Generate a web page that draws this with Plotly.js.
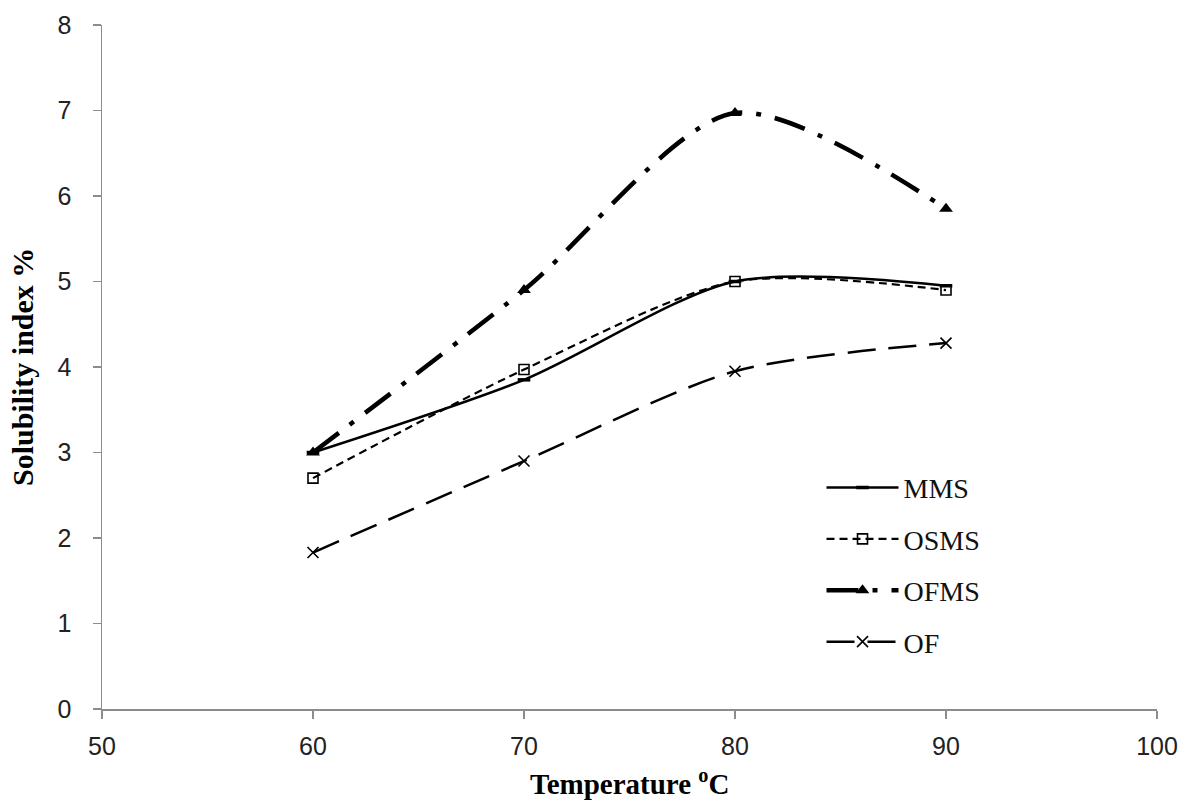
<!DOCTYPE html>
<html>
<head>
<meta charset="utf-8">
<script src="https://cdn.plot.ly/plotly-3.0.1.min.js"></script>
<style>html,body{margin:0;padding:0;background:#fff;}#chart{width:1189px;height:803px;}</style>
</head>
<body>
<div id="chart"></div>
<script>
var temperature = [60, 70, 80, 90];
var mms  = [3.0, 3.85, 5.0, 4.95];
var osms = [2.7, 3.97, 5.0, 4.9];
var ofms = [3.0, 4.9, 6.97, 5.85];
var of   = [1.83, 2.9, 3.95, 4.28];
var seriesNames = ['MMS', 'OSMS', 'OFMS', 'OF'];
var xTicks = [50, 60, 70, 80, 90, 100];
var yTicks = [0, 1, 2, 3, 4, 5, 6, 7, 8];
var xTitle = '<b>Temperature <sup>o</sup>C</b>';
var yTitle = '<b>Solubility index %</b>';

var traces = [
  {x: temperature, y: mms, name: seriesNames[0], legendgroup: 'a', mode: 'lines+markers',
   line: {color: '#000', width: 2.5, shape: 'spline', smoothing: 0.8},
   marker: {symbol: 'line-ew', size: 9, color: '#000', line: {color: '#000', width: 3.5}}},
  {x: temperature, y: osms, name: seriesNames[1], legendgroup: 'b', mode: 'lines+markers',
   line: {color: '#000', width: 2.2, dash: '8px,5px', shape: 'spline', smoothing: 0.8},
   marker: {symbol: 'square-open', size: 10, color: '#000', line: {color: '#000', width: 1.6}}},
  {x: temperature, y: ofms, name: seriesNames[2], legendgroup: 'c', mode: 'lines+markers',
   line: {color: '#000', width: 4.5, dash: '32px,14px,5px,14px', shape: 'spline', smoothing: 0.8},
   marker: {symbol: 'triangle-up', size: 12, color: '#000'}},
  {x: temperature, y: of, name: seriesNames[3], legendgroup: 'd', mode: 'lines+markers',
   line: {color: '#000', width: 2.5, dash: '28px,13px', shape: 'spline', smoothing: 0.8},
   marker: {symbol: 'x-thin', size: 11, color: '#000', line: {color: '#000', width: 1.6}}}
];

var layout = {
  width: 1189, height: 803,
  margin: {l: 102, r: 32, t: 25, b: 94},
  paper_bgcolor: '#fff', plot_bgcolor: '#fff',
  font: {family: '"Liberation Serif", "Times New Roman", serif', color: '#000', size: 24},
  showlegend: true,
  legend: {x: 0.682, y: 0.36, xanchor: 'left', yanchor: 'top', bgcolor: 'rgba(0,0,0,0)',
           font: {size: 28, color: '#111'}, tracegroupgap: 12, traceorder: 'grouped', itemwidth: 72},
  xaxis: {
    range: [50, 100], tickvals: xTicks, ticktext: xTicks.map(String),
    showgrid: false, zeroline: false, showline: true, linecolor: '#8c8c8c', linewidth: 1.5,
    ticks: 'outside', ticklen: 8, tickcolor: '#8c8c8c', tickwidth: 1.5, ticklabelstandoff: 6,
    tickfont: {family: '"Liberation Sans", Arial, sans-serif', size: 25, color: '#222'}
  },
  yaxis: {
    range: [0, 8], tickvals: yTicks,
    showgrid: false, zeroline: false, showline: true, linecolor: '#8c8c8c', linewidth: 1.5,
    ticks: 'outside', ticklen: 8, tickcolor: '#8c8c8c', tickwidth: 1.5, ticklabelstandoff: 16,
    tickfont: {family: '"Liberation Sans", Arial, sans-serif', size: 25, color: '#222'}
  },
  annotations: [
    {text: xTitle, xref: 'paper', yref: 'paper', x: 0.5, y: -0.136, xanchor: 'center', yanchor: 'bottom',
     showarrow: false, font: {size: 29, color: '#000'}},
    {text: yTitle, xref: 'paper', yref: 'paper', x: -0.0758, y: 0.5, xanchor: 'center', yanchor: 'middle',
     textangle: -90, showarrow: false, font: {size: 30, color: '#000'}}
  ]
};

Plotly.newPlot('chart', traces, layout, {displayModeBar: false, staticPlot: true});
</script>
</body>
</html>
